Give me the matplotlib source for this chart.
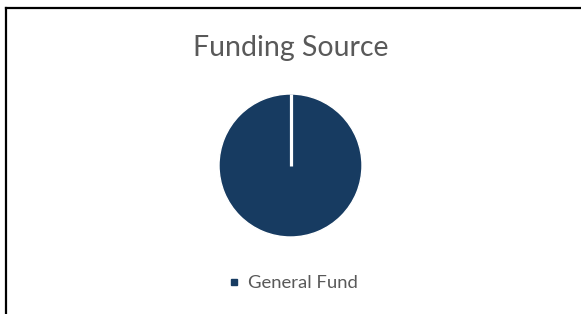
import matplotlib
matplotlib.use("Agg")
import matplotlib.pyplot as plt
import numpy as np
from matplotlib.lines import Line2D

# data
labels = ["General Fund"]
values = [100]
colors = ["#173b61"]
title = "Funding Source"

W, H = 581, 314
fig = plt.figure(figsize=(W / 100, H / 100), dpi=100)
fig.patch.set_facecolor("white")

# chart frame (left + top edges visible)
fig.add_artist(Line2D([6 / W, 6 / W], [0, 1 - 8 / H], transform=fig.transFigure,
                      color="black", lw=1.6))
fig.add_artist(Line2D([6 / W, 1], [1 - 8 / H, 1 - 8 / H], transform=fig.transFigure,
                      color="black", lw=1.6))

fig.text(290.5 / W, 1 - 48 / H, title, ha="center", va="center",
         fontsize=20.5, color="#595959", family="Lato")

# pie
cx, cy, r = 290.5, 165.5, 71.5
ax = fig.add_axes([(cx - r) / W, 1 - (cy + r) / H, 2 * r / W, 2 * r / H])
wedges, _ = ax.pie(values, colors=colors, startangle=90, counterclock=False, radius=1,
                   wedgeprops=dict(edgecolor="white", linewidth=1.0))
# slice border from centre to the start angle (a full wedge drops it)
for w in wedges:
    a = np.deg2rad(w.theta2)
    ax.plot([w.center[0], w.center[0] + w.r * np.cos(a)],
            [w.center[1], w.center[1] + w.r * np.sin(a)],
            color="white", lw=2.3, solid_capstyle="butt")
ax.set_xlim(-1, 1)
ax.set_ylim(-1, 1)
ax.set_aspect("equal")
ax.axis("off")

# legend
handles = [Line2D([], [], marker="s", ls="", color=c, markersize=5) for c in colors]
fig.legend(handles, labels, loc="center", bbox_to_anchor=(293 / W, 1 - 283 / H),
           frameon=False, handletextpad=0.4, handlelength=0.7,
           prop=dict(family="Lato", size=13.3), labelcolor="#595959")

fig.savefig("out.png", dpi=100)
